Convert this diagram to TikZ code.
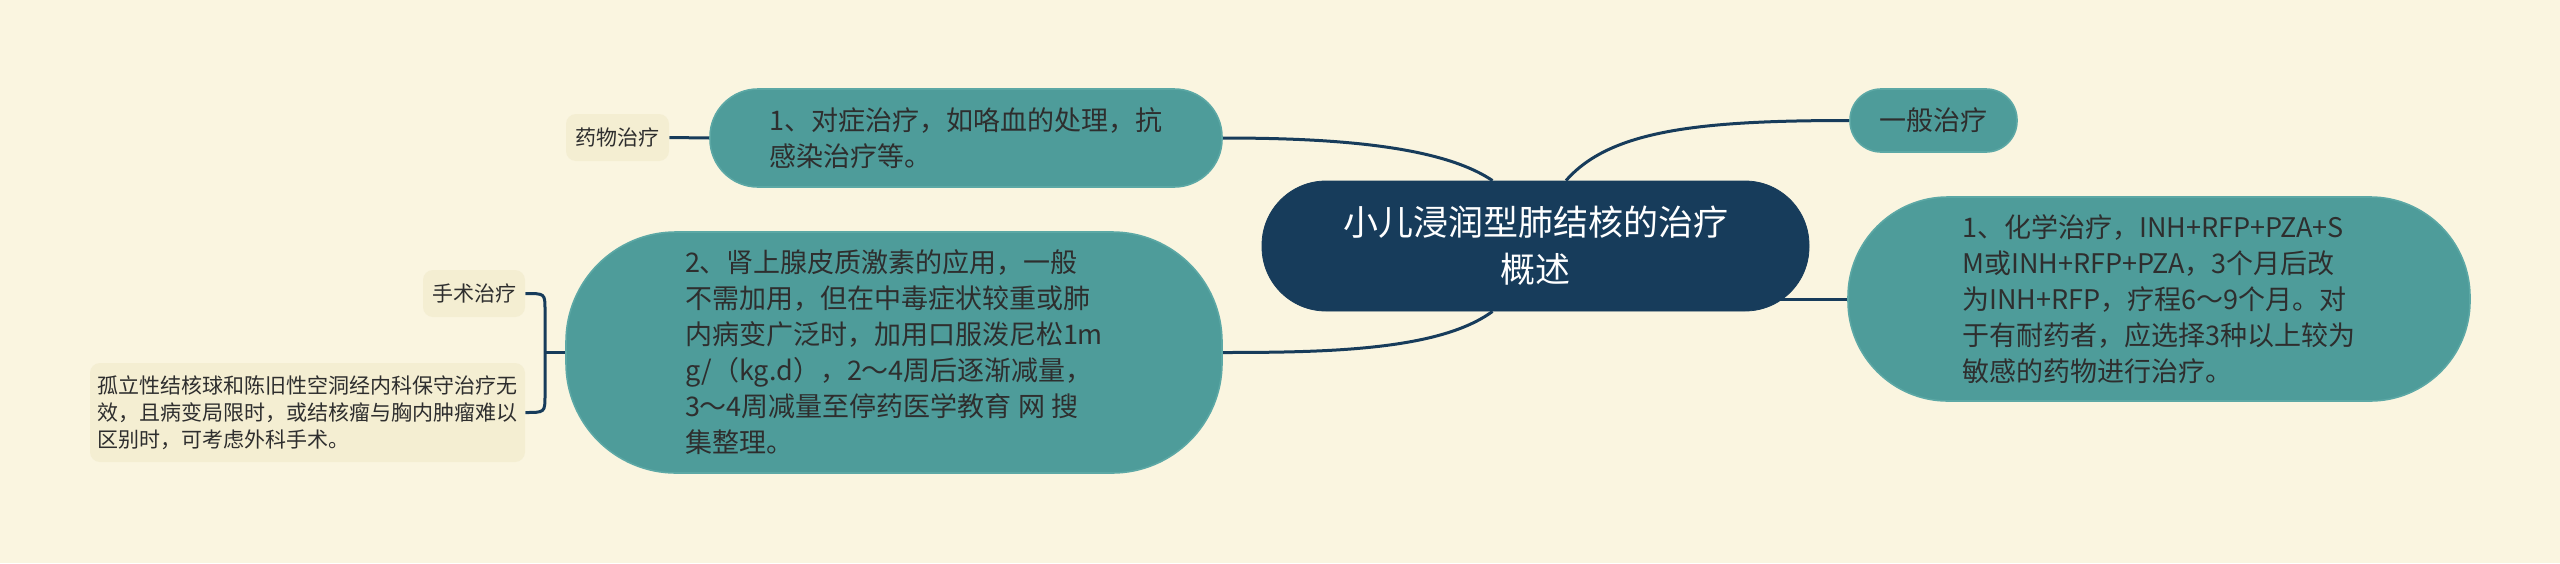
\documentclass[tikz,border=0pt]{standalone}
\usepackage{fontspec}
\setmainfont{Noto Sans CJK SC}
\usetikzlibrary{backgrounds}
\definecolor{paper}{HTML}{FAF5E0}
\definecolor{navy}{HTML}{173C5B}
\definecolor{tealfill}{HTML}{4E9C9A}
\definecolor{tealrim}{HTML}{5CA8A5}
\definecolor{cream}{HTML}{F4EED2}
\definecolor{ink}{HTML}{2E2E2E}
\tikzset{
    rootbox/.style={fill=navy, draw=navy, rounded corners=32pt, minimum width=273.5pt, minimum height=65pt,
        inner sep=0pt, text=white, align=center, font=\fontsize{17.5}{23.5}\selectfont},
    mainbox/.style={fill=tealfill, draw=tealrim, line width=0.8pt, inner sep=0pt, text=ink,
        align=left, font=\fontsize{13.5}{18}\selectfont},
    leafbox/.style={fill=cream, rounded corners=5pt, inner sep=0pt, text=ink,
        align=left, font=\fontsize{10.5}{13.5}\selectfont},
    link/.style={navy, line width=1.5pt},
}
\begin{document}
\begin{tikzpicture}[x=0.5pt, y=-0.5pt]
\node[rootbox] (root) at (1535.5,246) {小儿浸润型肺结核的治疗\\概述};
\node[mainbox, rounded corners=24pt, minimum width=256pt, minimum height=49pt] (sympt) at (966,138)
    {1、对症治疗，如咯血的处理，抗\\感染治疗等。};
\node[mainbox, rounded corners=55pt, minimum width=328pt, minimum height=120.5pt] (steroid) at (894,352.5)
    {2、肾上腺皮质激素的应用，一般\\不需加用，但在中毒症状较重或肺\\内病变广泛时，加用口服泼尼松1m\\g/（kg.d），2～4周后逐渐减量，\\3～4周减量至停药医学教育 网 搜\\集整理。};
\node[mainbox, rounded corners=15.5pt, minimum width=83.5pt, minimum height=31.5pt, align=center] (general) at (1933.5,120.5)
    {一般治疗};
\node[mainbox, rounded corners=50pt, minimum width=311pt, minimum height=102pt] (chemo) at (2159,299)
    {1、化学治疗，INH+RFP+PZA+S\\M或INH+RFP+PZA，3个月后改\\为INH+RFP，疗程6～9个月。对\\于有耐药者，应选择3种以上较为\\敏感的药物进行治疗。};
\node[leafbox, minimum width=51.5pt, minimum height=23.5pt] (drug) at (617.5,137.5) {药物治疗};
\node[leafbox, minimum width=51pt, minimum height=23.5pt] (surgery) at (474,293.5) {手术治疗};
\node[leafbox, minimum width=217.5pt, minimum height=49.5pt] (isolate) at (307.5,412.5)
    {孤立性结核球和陈旧性空洞经内科保守治疗无\\效，且病变局限时，或结核瘤与胸内肿瘤难以\\区别时，可考虑外科手术。};
\coordinate (spine) at (545,352.5);
\coordinate (spinetop) at (545,310);
\coordinate (spinebot) at (545,395);
\begin{pgfonlayer}{background}
\fill[paper] (0,0) rectangle (2560,563);
\draw[link] ([xshift=-21.5pt]root.north) .. controls (1440,145) and (1330,138) .. (sympt.east);
\draw[link] ([xshift=-21.5pt]root.south) .. controls (1440,350) and (1330,352.5) .. (steroid.east);
\draw[link] ([xshift=15.25pt]root.north) .. controls (1610,130) and (1700,120.5) .. (general.west);
\draw[link] (root.center |- chemo.west) -- (chemo.west);
\draw[link] (drug.east) -- (sympt.west);
\draw[link] (steroid.west) -- (spine);
\draw[link] (surgery.east) .. controls (545,293.5) .. (spinetop) -- (spinebot) .. controls (545,412.5) .. (isolate.east);
\end{pgfonlayer}
\end{tikzpicture}
\end{document}
